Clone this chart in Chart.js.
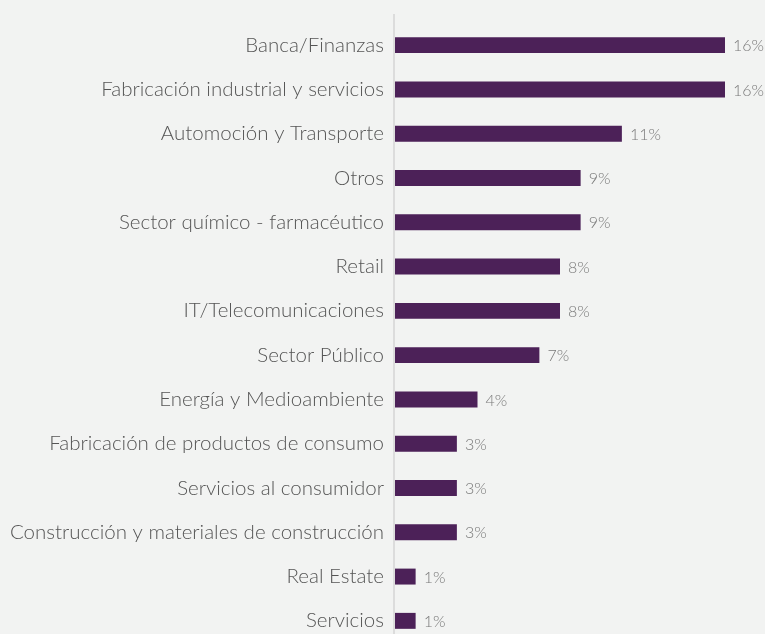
<!DOCTYPE html>
<html>
<head>
<meta charset="utf-8">
<script src="https://cdn.jsdelivr.net/npm/chart.js@4"></script>
<style>
  html, body { margin: 0; padding: 0; background: #f2f3f2; overflow: hidden; }
  canvas { display: block; }
</style>
</head>
<body>
<canvas id="myChart" width="765" height="650"></canvas>
<script>
var labels = [
    'Banca/Finanzas',
    'Fabricación industrial y servicios',
    'Automoción y Transporte',
    'Otros',
    'Sector químico - farmacéutico',
    'Retail',
    'IT/Telecomunicaciones',
    'Sector Público',
    'Energía y Medioambiente',
    'Fabricación de productos de consumo',
    'Servicios al consumidor',
    'Construcción y materiales de construcción',
    'Real Estate',
    'Servicios'
];
var values = [16, 16, 11, 9, 9, 8, 8, 7, 4, 3, 3, 3, 1, 1];

// draws the "16%" text after each bar and the thin axis line
var valueLabels = {
    id: 'valueLabels',
    afterDatasetsDraw: function(chart) {
        var ctx = chart.ctx;
        var meta = chart.getDatasetMeta(0);
        ctx.save();
        ctx.font = '300 16px Lato';
        ctx.fillStyle = '#7a7a7a';
        ctx.textBaseline = 'middle';
        meta.data.forEach(function(bar, i) {
            ctx.fillText(values[i] + '%', bar.x + 8, bar.y + 1);
        });
        ctx.restore();
    },
    beforeDatasetsDraw: function(chart) {
        var ctx = chart.ctx;
        var x = chart.chartArea.left - 1;
        ctx.save();
        ctx.strokeStyle = '#dcdcdc';
        ctx.lineWidth = 2;
        ctx.beginPath();
        ctx.moveTo(x, 14);
        ctx.lineTo(x, chart.height);
        ctx.stroke();
        ctx.restore();
    }
};

var ctx = document.getElementById('myChart').getContext('2d');
var myChart = new Chart(ctx, {
    type: 'bar',
    data: {
        labels: labels,
        datasets: [{
            data: values,
            backgroundColor: '#4c2158',
            barPercentage: 0.6,
            categoryPercentage: 0.6
        }]
    },
    plugins: [valueLabels],
    options: {
        indexAxis: 'y',
        responsive: false,
        animation: false,
        // canvas is a bit taller than the window, so the last row gets cut like the original
        layout: { padding: { top: 23, bottom: 7, right: 40, left: 0 } },
        plugins: {
            legend: { display: false },
            tooltip: { enabled: false }
        },
        scales: {
            x: {
                display: false,
                min: 0,
                max: 16
            },
            y: {
                grid: { display: false, drawTicks: false },
                border: { display: false },
                ticks: {
                    color: '#555',
                    padding: 11,
                    font: { family: 'Lato', size: 20.5, weight: '300' }
                },
                afterFit: function(scale) {
                    scale.width = 395;
                    scale.paddingTop = 0;
                    scale.paddingBottom = 0;
                }
            }
        }
    }
});
</script>
</body>
</html>
